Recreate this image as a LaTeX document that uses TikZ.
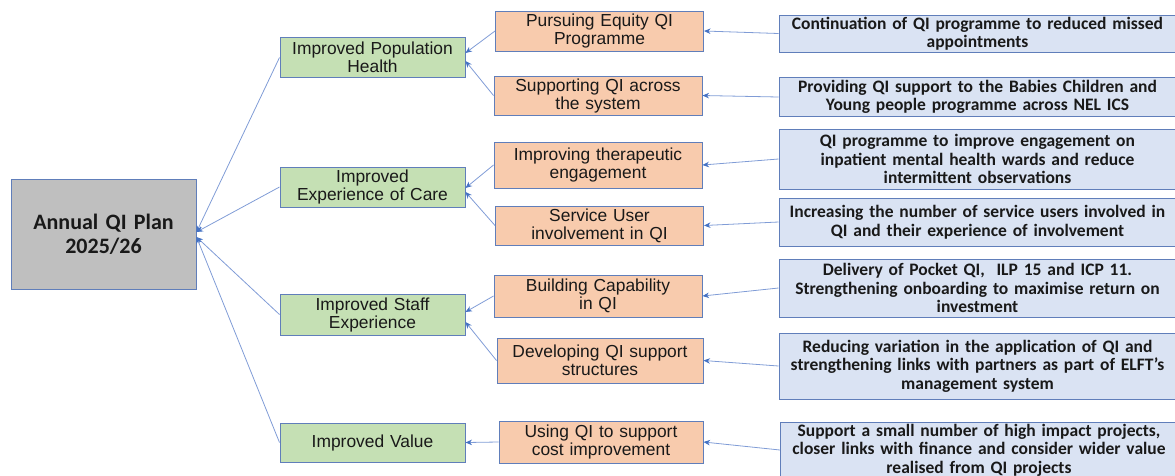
\documentclass[tikz,border=0pt]{standalone}
\usepackage{fontspec}
\setmainfont{Liberation Sans}
\newfontfamily\calibri{Carlito}
\usepackage{tikz}
\usetikzlibrary{arrows.meta}
\definecolor{boxline}{RGB}{96,126,186}
\definecolor{linkline}{RGB}{128,156,214}
\definecolor{tipblue}{RGB}{68,114,196}
\definecolor{planfill}{RGB}{191,191,191}
\definecolor{aimfill}{RGB}{197,224,180}
\definecolor{workfill}{RGB}{248,203,173}
\definecolor{detailfill}{RGB}{218,227,243}
\tikzset{%
    box/.style={draw=boxline, line width=1pt, inner sep=0pt, align=center, text=black!90},
    planbox/.style={box, fill=planfill, text width=185pt, minimum height=110pt,
        font={\calibri\bfseries\fontsize{22}{24}\selectfont}},
    aimbox/.style={box, fill=aimfill, text width=185pt, minimum height=40pt,
        font={\fontsize{17.4}{18}\selectfont}},
    workbox/.style={box, fill=workfill, text width=208pt, minimum height=40pt,
        font={\fontsize{17.4}{18}\selectfont}},
    detailbox/.style={box, fill=detailfill, text width=397pt, minimum height=40pt,
        font={\calibri\bfseries\fontsize{17.5}{18.5}\selectfont}},
    link/.style={draw=linkline, line width=0.8pt, -{Stealth[length=6.5pt,width=5.5pt,color=tipblue]}},
}

\begin{document}
\begin{tikzpicture}[x=1pt, y=-1pt]
\useasboundingbox (0,0) rectangle (1175,475);
\node[planbox] (plan) at (103.5,234) {Annual QI Plan\\2025/26};
% aims
\node[aimbox] (g1) at (372.5,57.5) {Improved Population\\Health};
\node[aimbox] (g2) at (372.5,187) {Improved\\Experience of Care};
\node[aimbox, minimum height=41pt] (g3) at (372.5,314.5) {Improved Staff\\Experience};
\node[aimbox, minimum height=39pt] (g4) at (372.5,442.5) {Improved Value};
% workstreams
\node[workbox] (o1) at (599.5,31) {Pursuing Equity QI\\Programme};
\node[workbox, minimum height=39pt] (o2) at (598,95.5) {Supporting QI across\\the system};
\node[workbox, minimum height=46pt] (o3) at (598,165) {Improving therapeutic\\engagement};
\node[workbox, minimum height=39pt] (o4) at (599.5,225.5) {Service User\\involvement in QI};
\node[workbox, minimum height=42pt] (o5) at (598,296) {Building Capability\\in QI};
\node[workbox, minimum height=45pt, text width=206pt] (o6) at (600,360.5) {Developing QI support\\structures};
\node[workbox, minimum height=42pt, text width=204pt] (o7) at (601,442) {Using QI to support\\cost improvement};
% details
\node[detailbox, minimum height=37pt] (b1) at (977.5,33.5) {Continuation of QI programme to reduced missed\\appointments};
\node[detailbox, minimum height=39pt] (b2) at (977.5,97) {Providing QI support to the Babies Children and\\Young people programme across NEL ICS};
\node[detailbox, minimum height=60pt] (b3) at (977.5,159) {QI programme to improve engagement on\\inpatient mental health wards and reduce\\intermittent observations};
\node[detailbox, minimum height=48pt] (b4) at (977.5,222) {Increasing the number of service users involved in\\QI and their experience of involvement};
\node[detailbox, minimum height=58pt] (b5) at (977.5,288) {Delivery of Pocket QI,\ \ ILP 15 and ICP 11.\\Strengthening onboarding to maximise return on\\investment};
\node[detailbox, minimum height=66pt] (b6) at (977.5,366) {Reducing variation in the application of QI and\\strengthening links with partners as part of ELFT’s\\management system};
\node[detailbox, minimum height=56pt] (b7) at (979,450) {Support a small number of high impact projects,\\closer links with finance and consider wider value\\realised from QI projects};
\foreach \i in {1,...,7}
    \path (b\i.west) edge[link] (o\i.east);
\path (o1.west) edge[link] ([yshift=4.5pt]g1.east);
\path (o2.west) edge[link] ([yshift=-3.5pt]g1.east);
\path (o3.west) edge[link] ([yshift=-1pt]g2.east);
\path (o4.west) edge[link] ([yshift=-5pt]g2.east);
\path (o5.west) edge[link] ([yshift=2.5pt]g3.east);
\path (o6.west) edge[link] ([yshift=-7.5pt]g3.east);
\path (o7.west) edge[link] (g4.east);
\path (g1.west) edge[link] ([yshift=2pt]plan.east);
\path (g2.west) edge[link] ([yshift=2pt]plan.east);
\path (g3.west) edge[link] ([yshift=-3pt]plan.east);
\path (g4.west) edge[link] ([yshift=-3pt]plan.east);
\end{tikzpicture}
\end{document}
